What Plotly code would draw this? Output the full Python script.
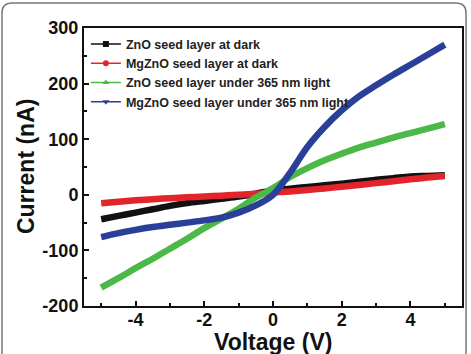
import plotly.graph_objects as go

voltage = [-5, -4.5, -4, -3.5, -3, -2.5, -2, -1.5, -1, -0.5, 0, 0.5, 1, 1.5, 2, 2.5, 3, 3.5, 4, 4.5, 5]

zno_dark = [-44, -38, -32, -26, -20, -15, -11, -7, -3, 2, 8, 11, 14, 17, 20, 23.5, 27, 30, 33, 34, 35]
mgzno_dark = [-15, -12.5, -10, -8, -6, -4.5, -3, -1.5, 0, 2, 4, 6, 8.5, 11.5, 14.5, 17.5, 21, 24.5, 28, 31, 34]
zno_light = [-167, -150, -132, -115, -97, -79, -60, -43, -25, -5, 12, 32, 48, 62, 74, 85, 94, 103, 111, 119, 127]
mgzno_light = [-76, -69, -63, -58, -54, -50, -46, -41, -32, -19, 0, 40, 86, 122, 152, 177, 197, 216, 234, 252, 270]

names = ["ZnO seed layer at dark", "MgZnO seed layer at dark",
         "ZnO seed layer under 365 nm light", "MgZnO seed layer under 365 nm light"]
series = [zno_dark, mgzno_dark, zno_light, mgzno_light]
colors = ["#111111", "#e3242b", "#4cb847", "#2a3f98"]
symbols = ["square", "circle", "triangle-up", "triangle-down"]
x_title = "Voltage (V)"
y_title = "Current (nA)"

fig = go.Figure()
for ys, c in zip(series, colors):
    fig.add_trace(go.Scatter(x=voltage, y=ys, mode="lines", showlegend=False,
                             line=dict(color=c, width=6.5, shape="spline", smoothing=1.0)))
for n, c, s in zip(names, colors, symbols):
    fig.add_trace(go.Scatter(x=[None], y=[None], mode="lines+markers", name=n,
                             line=dict(color=c, width=1.5),
                             marker=dict(color=c, symbol=s, size=6)))

# plot area in pixels
L, R, T, B = 84, 462, 28, 306
W, H = 471, 354
def px(x):
    return (x - L) / (R - L)
def py(y):
    return (B - y) / (B - T)

border = (f"M {px(2)},{py(354)} L {px(2)},{py(13)} Q {px(2)},{py(3)} {px(12)},{py(3)} "
          f"L {px(456)},{py(3)} Q {px(466)},{py(3)} {px(466)},{py(13)} L {px(466)},{py(354)}")
fig.add_shape(type="path", path=border, xref="paper", yref="paper",
              line=dict(color="#777777", width=1.5))

axis_font = dict(family="Liberation Sans, Arial, sans-serif", size=18, color="#111111", weight="bold")
title_font = dict(family="Liberation Sans, Arial, sans-serif", size=23, color="#111111", weight="bold")

fig.add_annotation(text=x_title, xref="paper", yref="paper", x=px(273), y=py(342),
                   xanchor="center", yanchor="middle", showarrow=False, font=title_font)
fig.add_annotation(text=y_title, xref="paper", yref="paper", x=px(26), y=py(167),
                   xanchor="center", yanchor="middle", showarrow=False, textangle=-90, font=title_font)

fig.update_xaxes(range=[-5.5, 5.5], tickvals=[-4, -2, 0, 2, 4], ticktext=["-4", "-2", "0", "2", "4"],
                 ticks="inside", ticklen=5, tickwidth=1.5, tickcolor="#111111", ticklabelstandoff=-4,
                 minor=dict(dtick=1, tick0=0, ticks="inside", ticklen=3, tickwidth=1.5, tickcolor="#111111"),
                 showline=True, linewidth=2, linecolor="#111111", mirror=True, automargin=False,
                 showgrid=False, zeroline=False, tickfont=axis_font)
fig.update_yaxes(range=[-200, 300], tickvals=[-200, -100, 0, 100, 200, 300],
                 ticktext=["-200", "-100", "0", "100", "200", "300"],
                 ticks="inside", ticklen=5, tickwidth=1.5, tickcolor="#111111",
                 minor=dict(dtick=50, tick0=0, ticks="inside", ticklen=3, tickwidth=1.5, tickcolor="#111111"),
                 showline=True, linewidth=2, linecolor="#111111", mirror=True, automargin=False,
                 showgrid=False, zeroline=False, tickfont=axis_font)

fig.update_layout(width=W, height=H, margin=dict(l=L, r=W - R, t=T, b=H - B),
                  paper_bgcolor="white", plot_bgcolor="white",
                  legend=dict(x=0.005, y=0.995, xanchor="left", yanchor="top",
                              bgcolor="rgba(0,0,0,0)", tracegroupgap=0, itemwidth=30,
                              font=dict(family="Liberation Sans, Arial, sans-serif", size=12.5,
                                        color="#222222", weight="bold")))

fig.write_html("out.html")
